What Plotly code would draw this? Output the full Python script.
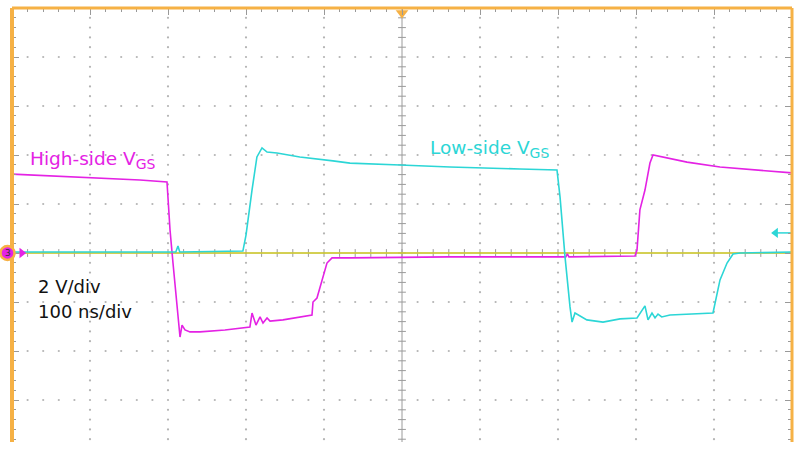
import plotly.graph_objects as go

# ---- data (time in ns, voltage in V; 100 ns/div, 2 V/div) ----
hs_t = [0, 61.5, 112.8, 164, 198.7, 202.6, 206.4, 211.5, 215.4, 218, 221.8, 228.2, 241, 273, 305,
        307.7, 312.8, 318, 321.8, 327, 330.8, 347.4, 384.6, 385.9, 391, 403.8, 410.3, 433.3, 500,
        560, 710, 712, 714, 760, 798.7, 801.3, 805, 811.5, 817.9, 821.8, 834.6, 865.4, 907.7, 950, 1000]
hs_v = [3.22, 3.14, 3.06, 2.98, 2.90, 0.94, -0.41, -2.04, -3.43, -2.94, -3.14, -3.22, -3.22, -3.14, -3.02,
        -2.45, -2.94, -2.61, -2.86, -2.65, -2.78, -2.73, -2.53, -2.0, -1.84, -0.41, -0.20, -0.20, -0.18,
        -0.16, -0.16, -0.04, -0.16, -0.14, -0.12, 0.12, 1.76, 2.57, 3.67, 4.0, 3.92, 3.71, 3.51, 3.39, 3.27]

ls_t = [0, 100, 210, 212.8, 215, 296, 300, 307.7, 314, 320.5, 327, 339.7, 369, 411.5, 433.3, 497.4,
        561.5, 651, 698.7, 702.6, 709, 715.4, 718, 721.8, 737, 757.7, 779.5, 801.3, 811.5, 815.4,
        820.5, 824.4, 828.2, 833, 843.6, 898.7, 901.3, 907.7, 916.7, 924.4, 933.3, 1000]
ls_v = [0.04, 0.04, 0.04, 0.29, 0.04, 0.08, 0.73, 2.57, 3.92, 4.29, 4.12, 4.08, 3.92, 3.76, 3.67, 3.59,
        3.51, 3.43, 3.39, 2.29, -0.16, -2.2, -2.82, -2.45, -2.73, -2.82, -2.69, -2.65, -2.16, -2.73,
        -2.45, -2.65, -2.49, -2.61, -2.53, -2.45, -2.04, -1.10, -0.41, -0.04, 0.0, 0.04]

yel_t = [0, 1000]
yel_v = [0.0, 0.0]

x_range = [0, 1000]
y_range = [-7.714, 10]

MAG = "#E422E4"
CYAN = "#2CD6D6"
YEL = "#D6D02A"
ORANGE = "#F6B145"
GRID = "#B4B4B4"

fig = go.Figure()

# dotted graticule
gx, gy = [], []
for xm in range(100, 1000, 100):
    if xm == 500:
        continue
    k = -19
    while k * 0.4 < 10:
        gx.append(xm); gy.append(k * 0.4); k += 1
for ym in [-6, -4, -2, 2, 4, 6, 8]:
    for xs in range(20, 1000, 20):
        if xs % 100 == 0:
            continue
        gx.append(xs); gy.append(ym)
fig.add_trace(go.Scatter(x=gx, y=gy, mode="markers", marker=dict(size=2.2, color=GRID),
                         hoverinfo="skip", showlegend=False))

# center crosshair with ticks
cx, cy = [500, 500, None, 0, 1000, None], [y_range[0], y_range[1], None, 0, 0, None]
k = -19
while k * 0.4 < 10:
    cx += [495, 505, None]; cy += [k * 0.4, k * 0.4, None]; k += 1
for xs in range(20, 1000, 20):
    cx += [xs, xs, None]; cy += [-0.16, 0.16, None]
fig.add_trace(go.Scatter(x=cx, y=cy, mode="lines", line=dict(color="#9A9A9A", width=1),
                         hoverinfo="skip", showlegend=False))

# traces
fig.add_trace(go.Scatter(x=yel_t, y=yel_v, mode="lines", line=dict(color=YEL, width=1.6),
                         showlegend=False))
fig.add_trace(go.Scatter(x=hs_t, y=hs_v, mode="lines", line=dict(color=MAG, width=1.6),
                         showlegend=False))
fig.add_trace(go.Scatter(x=ls_t, y=ls_v, mode="lines", line=dict(color=CYAN, width=1.6),
                         showlegend=False))

# channel marker arrow on the left
fig.add_trace(go.Scatter(x=[12.5], y=[0], mode="markers",
                         marker=dict(symbol="triangle-right", size=9, color=MAG),
                         cliponaxis=False, hoverinfo="skip", showlegend=False))
# cyan arrow on the right
fig.add_trace(go.Scatter(x=[978, 1000], y=[0.82, 0.82], mode="lines",
                         line=dict(color=CYAN, width=1.5), cliponaxis=False,
                         hoverinfo="skip", showlegend=False))
fig.add_trace(go.Scatter(x=[979], y=[0.82], mode="markers",
                         marker=dict(symbol="triangle-left", size=9, color=CYAN),
                         cliponaxis=False, hoverinfo="skip", showlegend=False))
# trigger marker at top
fig.add_trace(go.Scatter(x=[500], y=[9.8], mode="markers",
                         marker=dict(symbol="triangle-down", size=11, color=ORANGE),
                         cliponaxis=False, hoverinfo="skip", showlegend=False))

# border
fig.add_shape(type="line", xref="paper", yref="paper", x0=0, x1=0, y0=0, y1=1,
              line=dict(color=ORANGE, width=4))
fig.add_shape(type="line", xref="paper", yref="paper", x0=0, x1=1, y0=1, y1=1,
              line=dict(color=ORANGE, width=3))
fig.add_shape(type="line", xref="paper", yref="paper", x0=1, x1=1, y0=0, y1=1,
              line=dict(color=ORANGE, width=3))

# channel "3" badge (paper coords, just left of the plot edge, at 0 V)
zero_paper = (0 - y_range[0]) / (y_range[1] - y_range[0])
badge_x = -4.5 / 780
fig.add_shape(type="circle", xref="paper", yref="paper", xsizemode="pixel", ysizemode="pixel",
              xanchor=badge_x, yanchor=zero_paper, x0=-7, x1=7, y0=-7, y1=7,
              fillcolor=MAG, line=dict(color=ORANGE, width=2.5), layer="above")
fig.add_annotation(x=badge_x, y=zero_paper, xref="paper", yref="paper", text="3",
                   showarrow=False, xanchor="center", yanchor="middle",
                   font=dict(family="DejaVu Sans", size=9, color="#333333"))

font = "DejaVu Sans"
sub = "<sub><span style='font-size:14px'>GS</span></sub>"
fig.add_annotation(x=20.5, y=3.8, xref="x", yref="y", text="High-side V" + sub,
                   showarrow=False, xanchor="left", yanchor="middle",
                   font=dict(family=font, size=18.5, color=MAG))
fig.add_annotation(x=533, y=4.24, xref="x", yref="y", text="Low-side V" + sub,
                   showarrow=False, xanchor="left", yanchor="middle",
                   font=dict(family=font, size=18.5, color=CYAN))
fig.add_annotation(x=30.8, y=-1.35, xref="x", yref="y", text="2 V/div",
                   showarrow=False, xanchor="left", yanchor="middle",
                   font=dict(family=font, size=18, color="#111111"))
fig.add_annotation(x=30.8, y=-2.4, xref="x", yref="y", text="100 ns/div",
                   showarrow=False, xanchor="left", yanchor="middle",
                   font=dict(family=font, size=18, color="#111111"))

fig.update_layout(
    width=800, height=454,
    margin=dict(l=12, r=8, t=8, b=12),
    paper_bgcolor="white", plot_bgcolor="white",
    showlegend=False,
    xaxis=dict(range=x_range, side="top", showgrid=False, zeroline=False, showticklabels=False,
               ticks="inside", tick0=0, dtick=100, ticklen=7, tickcolor="#999999",
               minor=dict(ticks="inside", dtick=20, ticklen=4, tickcolor="#999999"),
               mirror=False, showline=False, fixedrange=True),
    yaxis=dict(range=y_range, showgrid=False, zeroline=False, showticklabels=False,
               ticks="inside", tick0=0, dtick=2, ticklen=7, tickcolor="#999999",
               minor=dict(ticks="inside", dtick=0.4, ticklen=4, tickcolor="#999999"),
               mirror="ticks", showline=False, fixedrange=True),
)

fig.write_html("out.html", config={"displayModeBar": False},
               post_script="document.body.style.margin='0';")
